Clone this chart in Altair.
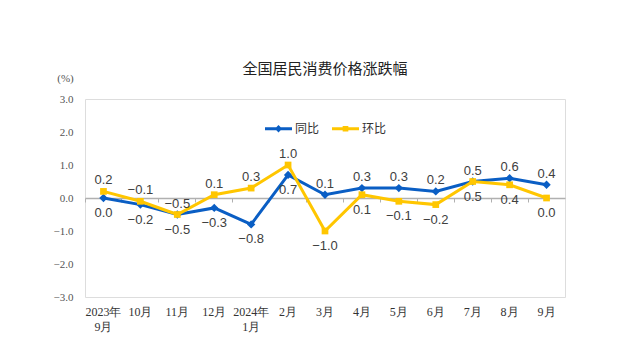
import altair as alt
import pandas as pd

months = ["2023年|9月", "10月", "11月", "12月", "2024年|1月", "2月", "3月",
          "4月", "5月", "6月", "7月", "8月", "9月"]
series = ["同比", "环比"]
yoy = [0.0, -0.2, -0.5, -0.3, -0.8, 0.7, 0.1, 0.3, 0.3, 0.2, 0.5, 0.6, 0.4]
mom = [0.2, -0.1, -0.5, 0.1, 0.3, 1.0, -1.0, 0.1, -0.1, -0.2, 0.5, 0.4, 0.0]
yoy_pos = ["below"] * 6 + ["above"] * 4 + ["below", "above", "above"]
mom_pos = ["above"] * 6 + ["below"] * 4 + ["above", "below", "below"]
y_ticks = [-3, -2, -1, 0, 1, 2, 3]
colors = ["#0A5EC4", "#FFC600"]

rows = []
for i, m in enumerate(months):
    rows.append({"month": m, "series": series[0], "value": yoy[i], "pos": yoy_pos[i]})
    rows.append({"month": m, "series": series[1], "value": mom[i], "pos": mom_pos[i]})
df = pd.DataFrame(rows)

xscale = alt.Scale(type="band", paddingInner=0, paddingOuter=0)
yscale = alt.Scale(domain=[-3, 3], nice=False, zero=False)

x_enc = alt.X("month:N", sort=months, scale=xscale, title=None,
              axis=alt.Axis(orient="bottom", offset=-99, labelExpr="split(datum.label, '|')",
                            labelAngle=0, bandPosition=0, tickSize=4, tickColor="#B0B0B0",
                            domainColor="#B0B0B0", domainWidth=1.5,
                            labelFont="Liberation Serif", labelFontSize=12,
                            labelColor="#333333", labelPadding=104,
                            labelLineHeight=15, labelBaseline="top"))
y_enc = alt.Y("value:Q", scale=yscale, title="(%)",
              axis=alt.Axis(values=y_ticks, format=".1f", grid=False, ticks=False,
                            domain=False, labelFont="Liberation Serif", labelFontSize=11,
                            labelColor="#555555", labelPadding=12,
                            titleAngle=0, titleX=-20, titleY=-21,
                            titleAlign="center", titleBaseline="middle",
                            titleFont="Liberation Serif", titleFontSize=11,
                            titleFontWeight="normal", titleColor="#555555"))

diamond_path = "M-1,-0.11H1V0.11H-1Z M0,-0.27L0.27,0L0,0.27L-0.27,0Z"
square_path = "M-1,-0.11H1V0.11H-1Z M-0.21,-0.21H0.21V0.21H-0.21Z"
leg = alt.Legend(orient="none", legendX=180, legendY=16, direction="horizontal",
                 title=None, labelFont="Noto Sans CJK SC", labelFontSize=12,
                 labelColor="#333333", symbolSize=729, columnPadding=12,
                 labelOffset=3, padding=0, symbolOpacity=1, symbolStrokeWidth=0)
color_enc = alt.Color("series:N", scale=alt.Scale(domain=series, range=colors), legend=leg)
shape_enc = alt.Shape("series:N", scale=alt.Scale(domain=series, range=[diamond_path, square_path]),
                      legend=leg)

base = alt.Chart(df).encode(x=x_enc, y=y_enc)

# invisible layer that only carries the legend
legend_layer = base.mark_point(filled=True, opacity=0).encode(color=color_enc, shape=shape_enc)

line_yoy = base.transform_filter(alt.datum.series == series[0]).mark_line(strokeWidth=3).encode(
    color=color_enc)
pts_yoy = base.transform_filter(alt.datum.series == series[0]).mark_point(
    filled=True, shape="diamond", size=70, opacity=1).encode(color=color_enc)
line_mom = base.transform_filter(alt.datum.series == series[1]).mark_line(strokeWidth=3).encode(
    color=color_enc)
pts_mom = base.transform_filter(alt.datum.series == series[1]).mark_point(
    filled=True, shape="square", size=45, opacity=1).encode(color=color_enc)

lab_above = base.transform_filter(alt.datum.pos == "above").mark_text(
    dy=-11, baseline="middle", font="Liberation Sans", fontSize=13, color="#404040").encode(
    text=alt.Text("value:Q", format=".1f"))
lab_below = base.transform_filter(alt.datum.pos == "below").mark_text(
    dy=15, baseline="middle", font="Liberation Sans", fontSize=13, color="#404040").encode(
    text=alt.Text("value:Q", format=".1f"))

chart = alt.layer(
    legend_layer, line_yoy, pts_yoy, line_mom, pts_mom, lab_above, lab_below
).properties(
    width=480, height=198,
    autosize=alt.AutoSizeParams(type="none"),
    padding={"left": 77, "top": 91, "right": 67, "bottom": 55},
    title=alt.TitleParams("全国居民消费价格涨跌幅", anchor="middle", frame="group", offset=-5,
                          font="Noto Sans CJK SC", fontSize=15, fontWeight="normal",
                          color="#222222"),
).configure_view(stroke="#ADADAD", strokeWidth=2).configure(background="white")

chart.save("out.html", embed_options={"renderer": "svg", "actions": False})
